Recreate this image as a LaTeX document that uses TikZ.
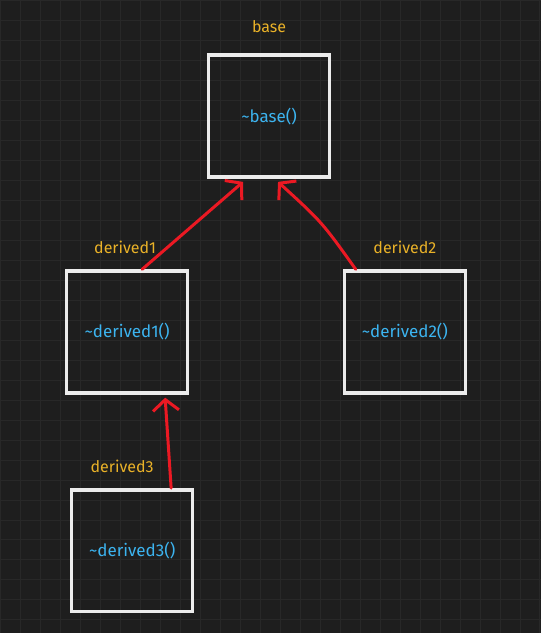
\documentclass[tikz,border=0pt]{standalone}
\usepackage{fontspec}
\setmainfont{Fira Sans}
\definecolor{BgDark}{RGB}{30, 30, 30}
\definecolor{GridDark}{RGB}{40, 40, 40}
\definecolor{BoxWhite}{RGB}{236, 236, 236}
\definecolor{LabelGold}{RGB}{234, 178, 40}
\definecolor{CodeBlue}{RGB}{60, 180, 240}
\definecolor{ArrowRed}{RGB}{235, 25, 35}
\usetikzlibrary{arrows.meta, positioning, calc}

\begin{document}
\begin{tikzpicture}[
    x=1pt, y=-1pt,
    every node/.style={font=\fontsize{17}{19}\selectfont, align=center},
    classbox/.style={draw=BoxWhite, line width=3.5pt, line cap=round,
                     minimum width=121pt, minimum height=122pt, inner sep=0pt,
                     text=CodeBlue},
    classname/.style={text=LabelGold, font=\fontsize{16}{18}\selectfont},
    inherit/.style={-{Straight Barb[length=11pt, width=26pt, line width=3pt]},
                    ArrowRed, line width=3pt, line cap=round}
]
% background and grid
\fill[BgDark] (0,0) rectangle (541,633);
\draw[GridDark, line width=0.6pt, step=20pt] (0,0) grid (541,633);
\useasboundingbox (0,0) rectangle (541,633);

\node[classbox] (base) at (269,116) {\textasciitilde base()};
\node[classbox] (d1) at (127,332) {\textasciitilde derived1()};
\node[classbox] (d2) at (405,332) {\textasciitilde derived2()};
\node[classbox] (d3) at (132,551) {\textasciitilde derived3()};

\node[classname, above=17pt of base] (nbase) {base};
\node[classname, above=12pt of d1, xshift=-2pt] (nd1) {derived1};
\node[classname, above=12pt of d2] (nd2) {derived2};
\node[classname, above=12pt of d3, xshift=-10pt] (nd3) {derived3};

\draw[inherit] ([xshift=15pt]d1.north) -- ([xshift=-26pt, yshift=-3pt]base.south);
\draw[inherit] ([xshift=13pt]d2.north west) .. controls (322,222) .. ([xshift=9pt, yshift=-3pt]base.south);
\draw[inherit] ([xshift=39pt]d3.north) .. controls (168,445) .. ([xshift=38pt, yshift=-3pt]d1.south);
\end{tikzpicture}
\end{document}
